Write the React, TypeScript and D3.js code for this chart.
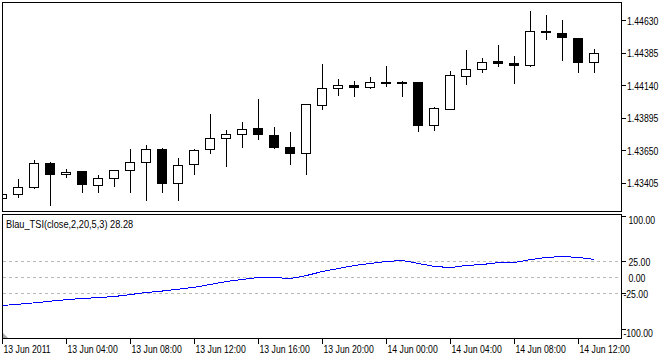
import React from 'react';
import * as d3 from 'd3';

// ---- Data (EURUSD-like H1 bars, 13 Jun 2011 00:00 .. 14 Jun 2011 13:00) ----
const opens = [1.43292, 1.43322, 1.43375, 1.43556, 1.43473, 1.43496, 1.43390, 1.43443, 1.43503, 1.43563,
  1.43661, 1.43405, 1.43548, 1.43661, 1.43744, 1.43774, 1.43819, 1.43767, 1.43671, 1.43628,
  1.43993, 1.44121, 1.44143, 1.44128, 1.44168, 1.44168, 1.44161, 1.43839, 1.43963, 1.44211,
  1.44264, 1.44319, 1.44311, 1.44294, 1.44552, 1.44535, 1.44497, 1.44317];
const highs = [1.43325, 1.43438, 1.43588, 1.43566, 1.43520, 1.43498, 1.43468, 1.43505, 1.43664, 1.43701,
  1.43671, 1.43603, 1.43669, 1.43927, 1.43807, 1.43874, 1.44040, 1.43835, 1.43792, 1.44002,
  1.44304, 1.44191, 1.44183, 1.44213, 1.44289, 1.44176, 1.44168, 1.43980, 1.44251, 1.44411,
  1.44354, 1.44447, 1.44369, 1.44708, 1.44678, 1.44640, 1.44505, 1.44422];
const lows = [1.43290, 1.43297, 1.43365, 1.43237, 1.43447, 1.43334, 1.43334, 1.43380, 1.43334, 1.43274,
  1.43334, 1.43274, 1.43470, 1.43628, 1.43530, 1.43673, 1.43734, 1.43666, 1.43545, 1.43470,
  1.43960, 1.44065, 1.44057, 1.44118, 1.44133, 1.44057, 1.43794, 1.43801, 1.43963, 1.44148,
  1.44241, 1.44286, 1.44155, 1.44286, 1.44490, 1.44329, 1.44241, 1.44241];
const closes = [1.43322, 1.43375, 1.43556, 1.43473, 1.43488, 1.43395, 1.43443, 1.43503, 1.43563, 1.43661,
  1.43402, 1.43541, 1.43654, 1.43744, 1.43774, 1.43812, 1.43771, 1.43673, 1.43628, 1.44000,
  1.44121, 1.44143, 1.44128, 1.44166, 1.44158, 1.44158, 1.43839, 1.43965, 1.44219, 1.44264,
  1.44317, 1.44309, 1.44294, 1.44550, 1.44542, 1.44502, 1.44317, 1.44384];
const tsiValues = [-43.75, -41.7, -39.6, -37.0, -34.6, -32.8, -31.3, -29.7, -26.6, -23.4,
  -21.1, -18.3, -15.2, -10.9, -6.25, -3.1, 0, 0, -1.6, 3.1,
  9.4, 14.1, 18.75, 21.9, 25.0, 26.6, 21.9, 17.2, 15.6, 18.75,
  20.3, 23.4, 23.4, 28.1, 31.25, 32.8, 31.25, 28.28];

const priceTicks = [1.44630, 1.44385, 1.44140, 1.43895, 1.43650, 1.43405];
const indicatorTicks = [100, 25, 0, -25, -100];
const levelValues = [25, 0, -25];
const timeTickBars = [0, 4, 8, 12, 16, 20, 24, 28, 32, 36];
const timeLabels = ['13 Jun 2011', '13 Jun 04:00', '13 Jun 08:00', '13 Jun 12:00', '13 Jun 16:00',
  '13 Jun 20:00', '14 Jun 00:00', '14 Jun 04:00', '14 Jun 08:00', '14 Jun 12:00'];
const indicatorTitle = 'Blau_TSI(close,2,20,5,3) 28.28';

const W = 665;
const H = 360;
const LEFT = 2.5;
const RIGHT = 621.5;
const MAIN_TOP = 2.5;
const MAIN_BOTTOM = 211.5;
const IND_TOP = 214.5;
const IND_BOTTOM = 338.5;
const FONT = "'Liberation Sans', Arial, sans-serif";

const T: React.FC<{ x: number; y: number; s?: number; children: React.ReactNode }> = ({ x, y, s = 0.79, children }) => (
  <text transform={`translate(${x},${y}) scale(${s},1)`} fontFamily={FONT} fontSize={11} fill="#000">
    {children}
  </text>
);

export default function App() {
  const x = d3.scaleLinear().domain([0, 1]).range([2.5, 18.5]);
  const y = d3.scaleLinear().domain([1.43405, 1.44630]).range([183.3, 20.67]);
  const y2 = d3.scaleLinear().domain([-25, 25]).range([293.5, 261.5]);
  const snap = (v: number) => Math.round(v - 0.5) + 0.5;

  const line = d3.line<number>().x((_, i) => x(i)).y((d) => y2(d));

  return (
    <svg width={W} height={H} style={{ position: 'absolute', left: 0, top: 0, background: '#fff' }}>
      <defs>
        <clipPath id="clipMain">
          <rect x={3} y={3} width={618} height={208} />
        </clipPath>
        <clipPath id="clipInd">
          <rect x={3} y={215} width={618} height={123} />
        </clipPath>
      </defs>
      <rect x={0} y={0} width={W} height={H} fill="#fff" />

      {/* candles */}
      <g clipPath="url(#clipMain)" shapeRendering="crispEdges">
        {opens.map((o, i) => {
          const c = closes[i];
          const cx = x(i);
          const top = snap(y(Math.max(o, c)));
          let bot = snap(y(Math.min(o, c)));
          if (bot - top < 1) bot = top + 1;
          const bull = c >= o && bot - top > 1;
          return (
            <g key={i}>
              <line x1={cx} x2={cx} y1={snap(y(highs[i]))} y2={snap(y(lows[i]))} stroke="#000" strokeWidth={1} />
              <path
                d={`M${cx - 5},${top}H${cx + 4}V${bot}H${cx - 5}Z`}
                fill={bull ? '#fff' : '#000'}
                stroke="#000"
                strokeWidth={1}
              />
            </g>
          );
        })}
      </g>

      {/* indicator levels */}
      <g shapeRendering="crispEdges">
        {levelValues.map((v) => (
          <line key={v} x1={3} x2={621} y1={y2(v)} y2={y2(v)} stroke="#b8b8b8" strokeWidth={1} strokeDasharray="3,3" />
        ))}
      </g>
      <g clipPath="url(#clipInd)">
        <path d={line(tsiValues) || ''} fill="none" stroke="#0000ff" strokeWidth={1} shapeRendering="crispEdges" />
      </g>
      <path d="M3,333L3,338L8,338Z" fill="#a8a8a8" />

      {/* frames */}
      <g fill="none" stroke="#000" strokeWidth={1} shapeRendering="crispEdges">
        <rect x={LEFT} y={MAIN_TOP} width={RIGHT - LEFT} height={MAIN_BOTTOM - MAIN_TOP} />
        <rect x={LEFT} y={IND_TOP} width={RIGHT - LEFT} height={IND_BOTTOM - IND_TOP} />
      </g>

      {/* price axis */}
      <g shapeRendering="crispEdges">
        {priceTicks.map((p) => (
          <line key={p} x1={RIGHT} x2={626} y1={snap(y(p))} y2={snap(y(p))} stroke="#000" />
        ))}
      </g>
      {priceTicks.map((p) => (
        <T key={p} x={627} y={y(p) + 4}>{p.toFixed(5)}</T>
      ))}

      {/* indicator axis */}
      <g shapeRendering="crispEdges">
        {indicatorTicks.filter((v) => v !== 0).map((v) => {
          const ty = snap(Math.max(216, Math.min(329, y2(v))));
          return <line key={v} x1={RIGHT} x2={626} y1={ty} y2={ty} stroke="#000" />;
        })}
      </g>
      {indicatorTicks.map((v) => {
        const ly = Math.max(220, Math.min(333, y2(v)));
        return (
          <T key={v} x={v < 0 ? 623.4 : 628.5} y={ly + 4}>{v.toFixed(2)}</T>
        );
      })}

      {/* title */}
      <T x={6} y={227.7} s={0.84}>{indicatorTitle}</T>

      {/* time axis */}
      <g shapeRendering="crispEdges">
        {timeTickBars.map((b) => (
          <line key={b} x1={x(b)} x2={x(b)} y1={IND_BOTTOM} y2={344} stroke="#000" />
        ))}
      </g>
      {timeTickBars.map((b, i) => (
        <T key={b} x={x(b) + 1} y={352.5}>{timeLabels[i]}</T>
      ))}
    </svg>
  );
}
